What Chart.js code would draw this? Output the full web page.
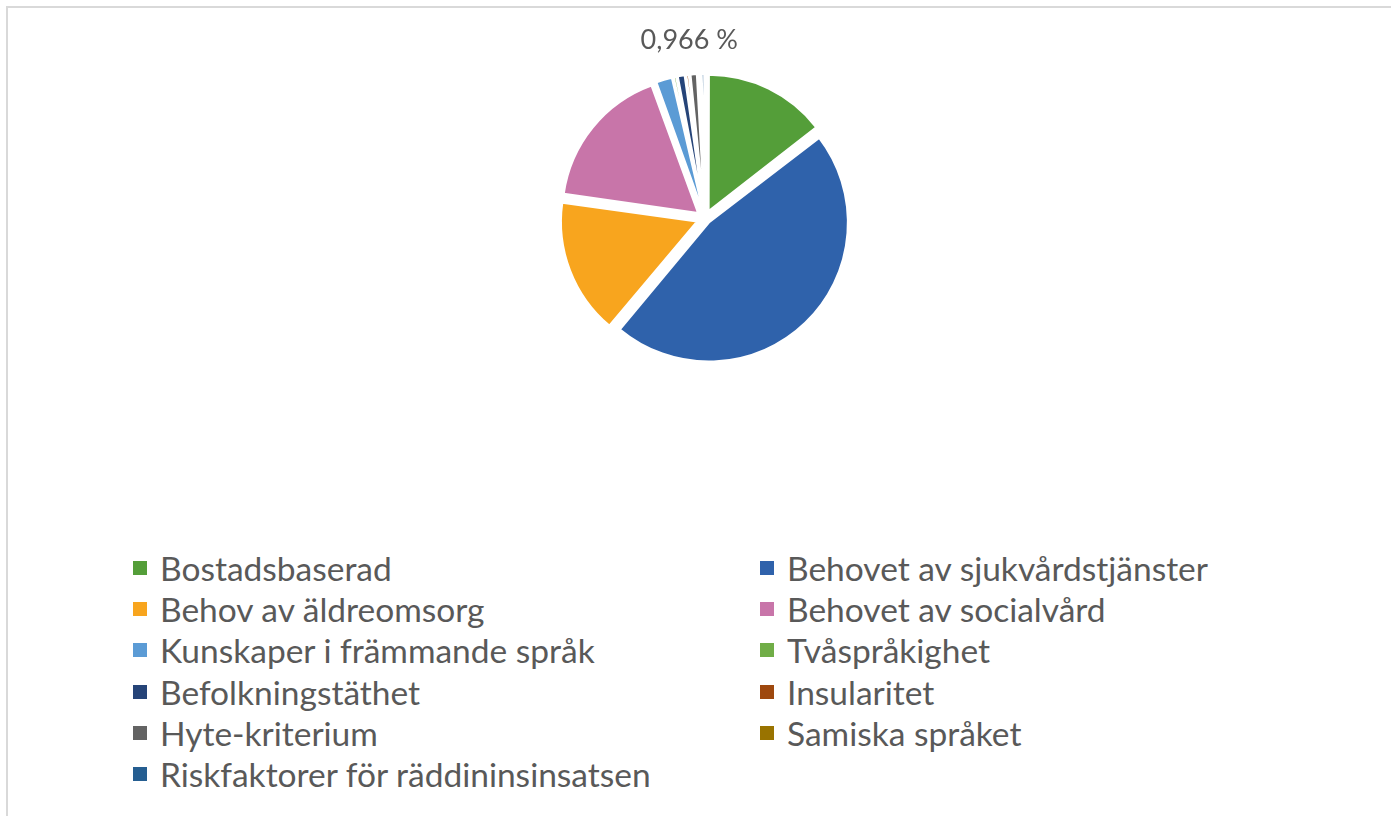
<!DOCTYPE html>
<html>
<head>
<meta charset="utf-8">
<script src="https://cdn.jsdelivr.net/npm/chart.js@4.4.0/dist/chart.umd.min.js"></script>
<style>
    html, body { margin: 0; padding: 0; background: #fff; }
    body { width: 1391px; height: 816px; position: relative; overflow: hidden; font-family: Lato, "Noto Sans", sans-serif; }
    .frame { position: absolute; left: 6px; top: 6px; width: 1500px; height: 900px; border-left: 2px solid #d9d9d9; border-top: 2px solid #d9d9d9; }
    .pie-wrap { position: absolute; left: 405px; top: 0; width: 600px; height: 392px; }
    .legend { position: absolute; left: 133px; top: 547px; display: grid; grid-template-columns: 627px auto; }
    .legend-item { display: flex; align-items: center; height: 41.3px; color: #595959; font-size: 33.5px; white-space: nowrap; }
    .legend-box { width: 14px; height: 14px; margin-right: 13px; flex: none; }
</style>
</head>
<body>
<div class="frame"></div>
<div class="pie-wrap"><canvas id="pieChart"></canvas></div>
<div class="legend" id="legend"></div>
<script>
// Data
const categories = [
    'Bostadsbaserad',
    'Behovet av sjukvårdstjänster',
    'Behov av äldreomsorg',
    'Behovet av socialvård',
    'Kunskaper i främmande språk',
    'Tvåspråkighet',
    'Befolkningstäthet',
    'Insularitet',
    'Hyte-kriterium',
    'Samiska språket',
    'Riskfaktorer för räddininsinsatsen'
];
const shares = [14.5, 46.6, 16.1, 17.2, 2.0, 0.45, 0.966, 0.45, 0.9, 0.35, 0.45];
const sliceColors = [
    '#549e39', '#2f62ab', '#f8a51e', '#c875a9', '#5b9bd5', '#70ad47',
    '#264478', '#9e480e', '#636363', '#997300', '#255e91'
];
// only one data label is shown in the original
const labelledIndex = 6;
const explodePx = 10;

const total = shares.reduce((a, b) => a + b, 0);

// Chart.js moves an arc by offset/4 * (2 - sin(angle)), so work back from the wanted px
function sliceOffset(ctx) {
    const angle = shares[ctx.dataIndex] / total * Math.PI * 2;
    const factor = (2 - Math.sin(Math.min(Math.PI, angle))) / 4;
    return explodePx / factor;
}

// Draws the single outside data label (a bit to the right, like the original)
const sliceLabel = {
    id: 'sliceLabel',
    afterDatasetsDraw(chart) {
        const arc = chart.getDatasetMeta(0).data[labelledIndex];
        if (!arc) return;
        const p = arc.getProps(['x', 'y', 'startAngle', 'endAngle', 'outerRadius']);
        const mid = (p.startAngle + p.endAngle) / 2;
        const r = p.outerRadius + 46;
        const pct = (shares[labelledIndex] / total * 100).toFixed(3).replace('.', ',') + ' %';
        const ctx = chart.ctx;
        ctx.save();
        ctx.font = '27px Lato, "Noto Sans", sans-serif';
        ctx.fillStyle = '#595959';
        ctx.textAlign = 'center';
        ctx.textBaseline = 'middle';
        ctx.fillText(pct, p.x + Math.cos(mid) * r + 14, p.y + Math.sin(mid) * r);
        ctx.restore();
    }
};

document.addEventListener('DOMContentLoaded', function() {
    const ctxPie = document.getElementById('pieChart');
    new Chart(ctxPie, {
        type: 'pie',
        data: {
            labels: categories,
            datasets: [{
                data: shares,
                backgroundColor: sliceColors,
                borderColor: '#ffffff',
                borderWidth: 2,
                offset: sliceOffset
            }]
        },
        options: {
            responsive: true,
            maintainAspectRatio: false,
            animation: false,
            layout: { padding: { top: 65, bottom: 20 } },
            plugins: {
                legend: { display: false },
                tooltip: { enabled: false }
            }
        },
        plugins: [sliceLabel]
    });

    // HTML legend built from the same arrays
    const legend = document.getElementById('legend');
    categories.forEach((name, i) => {
        const item = document.createElement('div');
        item.className = 'legend-item';
        item.innerHTML = `<span class="legend-box" style="background:${sliceColors[i]}"></span><span>${name}</span>`;
        legend.appendChild(item);
    });
});
</script>
</body>
</html>
